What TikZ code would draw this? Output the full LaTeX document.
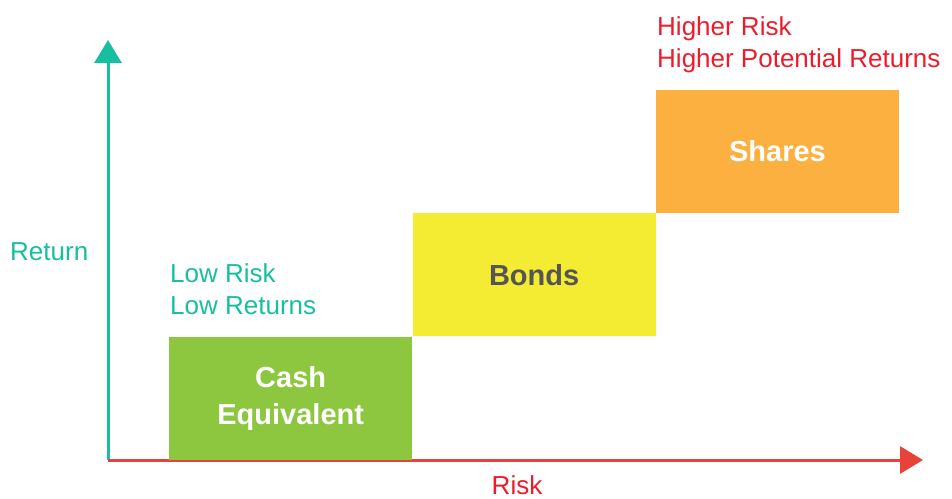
\documentclass[tikz,border=0pt]{standalone}
\usepackage{fontspec}
\setmainfont{Liberation Sans}
\usetikzlibrary{positioning,arrows.meta}

\definecolor{axisteal}{HTML}{17BF9F}
\definecolor{axisred}{HTML}{E8433A}
\definecolor{textred}{HTML}{ED1C2A}
\definecolor{cashgreen}{HTML}{8DC63F}
\definecolor{bondyellow}{HTML}{F3EC33}
\definecolor{shareorange}{HTML}{FBB040}
\definecolor{darkgray}{HTML}{555555}

\tikzset{
  riskbox/.style={minimum width=243pt, minimum height=123pt, inner sep=0pt,
    anchor=south west, align=center, font=\fontsize{29}{37}\selectfont\bfseries},
  note/.style={anchor=west, align=left, inner sep=0pt, font=\fontsize{26}{32}\selectfont},
  bigtip/.style={-{Triangle[length=23pt,width=27pt]}}
}

\begin{document}
\begin{tikzpicture}[x=1pt,y=-1pt]
 \useasboundingbox (0,0) rectangle (952,498);
 \coordinate (origo) at (108,460);
 \coordinate (ytop) at (108,40);
 \coordinate (xend) at (923,460);

    % draw axes
    \draw[line width=3pt,axisteal,bigtip] (origo) -- (ytop);
    \draw[line width=3pt,axisred,bigtip] (origo) -- (xend);
    \node[note,text=axisteal] (return) at (10,252) {Return};
    \node[note,anchor=base,text=textred] (risk) at (517,494) {Risk};

    % draw boxes
    \node[riskbox,fill=cashgreen,text=white] (cash) at (169,460) {Cash\\Equivalent};
    \node[riskbox,fill=bondyellow,text=darkgray] (bonds) at (cash.north east) {Bonds};
    \node[riskbox,fill=shareorange,text=white] (shares) at (bonds.north east) {Shares};

    % labels
    \node[note,text=axisteal] (low) at (170,289) {Low Risk\\Low Returns};
    \node[note,text=textred] (high) at (657,45) {Higher Risk\\Higher Potential Returns};

\end{tikzpicture}
\end{document}
